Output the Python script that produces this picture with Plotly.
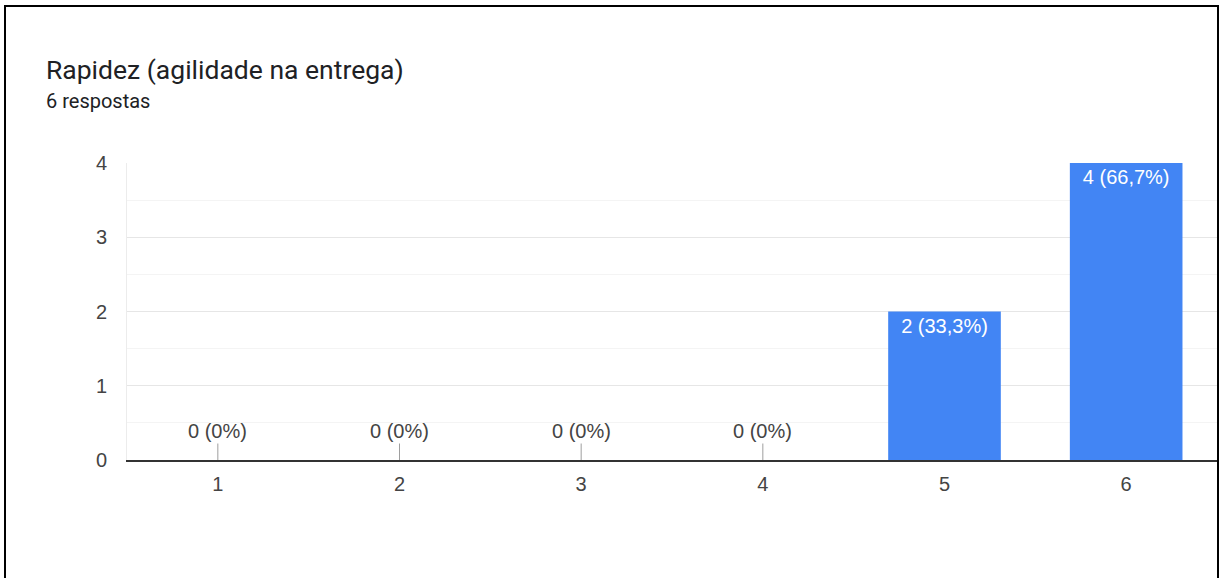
import plotly.graph_objects as go

# ---- data ----
categories = ["1", "2", "3", "4", "5", "6"]
counts = [0, 0, 0, 0, 2, 4]
title_text = "Rapidez (agilidade na entrega)"
subtitle_text = "6 respostas"
y_ticks = [0, 1, 2, 3, 4]

total = sum(counts)


def fmt_pct(v):
    p = round(v / total * 100, 1)
    s = (str(int(p)) if p == int(p) else f"{p:.1f}").replace(".", ",")
    return f"{v} ({s}%)"


labels = [fmt_pct(v) for v in counts]
x_pos = list(range(1, len(categories) + 1))

W, H = 1221, 578
L, R, T, B = 127, W - 1217, 163, H - 460
PW, PH = W - L - R, H - T - B


def px(xpix):
    return (xpix - L) / PW


def py(ypix):
    return (H - B - ypix) / PH


FONT = "Liberation Sans, Arial"

fig = go.Figure()
fig.add_trace(go.Bar(
    x=x_pos,
    y=counts,
    width=0.62,
    marker=dict(color="#4285F4", line=dict(width=0)),
    text=[lab if v > 0 else "" for lab, v in zip(labels, counts)],
    textposition="inside",
    insidetextanchor="end",
    textfont=dict(family=FONT, size=20, color="#ffffff"),
    hoverinfo="skip",
    showlegend=False,
))

annotations = []
for xv, v, lab in zip(x_pos, counts, labels):
    if v == 0:
        annotations.append(dict(
            x=xv, y=0, xref="x", yref="y",
            text=lab, showarrow=True, arrowhead=0, arrowwidth=1,
            arrowcolor="#9e9e9e", ax=0, ay=-29,
            font=dict(family=FONT, size=20, color="#444444"),
        ))

annotations.append(dict(
    x=px(44), y=py(69), xref="paper", yref="paper", xanchor="left", yanchor="middle",
    text=title_text, showarrow=False,
    font=dict(family="Roboto", size=26.5, color="#202124"),
))
annotations.append(dict(
    x=px(44), y=py(101), xref="paper", yref="paper", xanchor="left", yanchor="middle",
    text=subtitle_text, showarrow=False,
    font=dict(family="Roboto", size=20, color="#202124"),
))

shapes = [dict(
    type="rect", xref="paper", yref="paper",
    x0=px(5), x1=px(1218), y0=py(600), y1=py(6),
    line=dict(color="#000000", width=2), fillcolor="rgba(0,0,0,0)", layer="above",
)]

fig.update_layout(
    width=W, height=H,
    margin=dict(l=L, r=R, t=T, b=B, pad=0),
    paper_bgcolor="#ffffff", plot_bgcolor="#ffffff",
    annotations=annotations, shapes=shapes,
    xaxis=dict(
        range=[0.5, len(categories) + 0.5],
        tickmode="array", tickvals=x_pos, ticktext=categories,
        showgrid=False, zeroline=False,
        showline=True, linecolor="#333333", linewidth=1.5,
        ticks="outside", ticklen=5, tickcolor="rgba(0,0,0,0)",
        tickfont=dict(family=FONT, size=20, color="#444444"),
        fixedrange=True,
    ),
    yaxis=dict(
        range=[0, 4],
        tickmode="array", tickvals=y_ticks,
        showgrid=True, gridcolor="#e6e6e6", gridwidth=1,
        minor=dict(dtick=0.5, showgrid=True, gridcolor="#f4f4f4", gridwidth=1),
        zeroline=False,
        showline=True, linecolor="#ececec", linewidth=1,
        ticks="outside", ticklen=15, tickcolor="rgba(0,0,0,0)",
        tickfont=dict(family=FONT, size=20, color="#444444"),
        fixedrange=True,
    ),
)

fig.write_html("out.html")
